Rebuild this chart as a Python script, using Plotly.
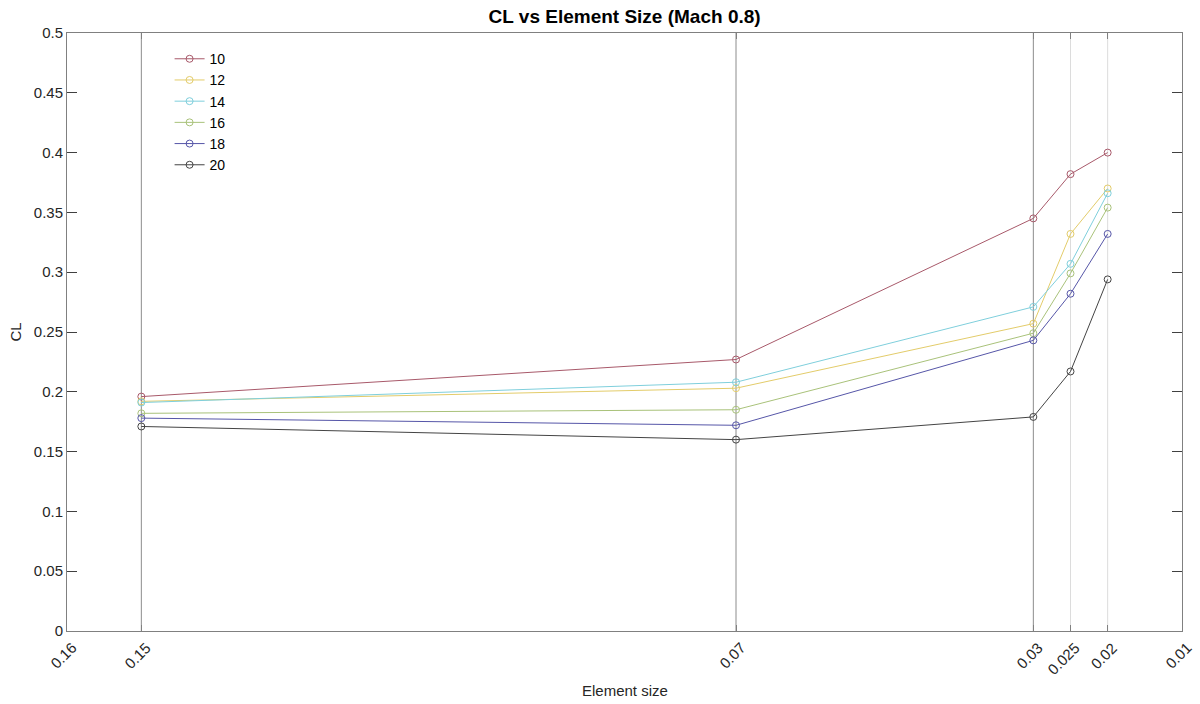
import plotly.graph_objects as go

# Element sizes (x) and lift coefficients per series
element_size = [0.15, 0.07, 0.03, 0.025, 0.02]
series_names = ["10", "12", "14", "16", "18", "20"]
cl_10 = [0.196, 0.227, 0.345, 0.382, 0.400]
cl_12 = [0.192, 0.203, 0.257, 0.332, 0.370]
cl_14 = [0.191, 0.208, 0.271, 0.307, 0.366]
cl_16 = [0.182, 0.185, 0.249, 0.299, 0.354]
cl_18 = [0.178, 0.172, 0.243, 0.282, 0.332]
cl_20 = [0.171, 0.160, 0.179, 0.217, 0.294]
x_ticks = [0.16, 0.15, 0.07, 0.03, 0.025, 0.02, 0.01]
x_tick_text = ["0.16", "0.15", "0.07", "0.03", "0.025", "0.02", "0.01"]
y_ticks = [0, 0.05, 0.1, 0.15, 0.2, 0.25, 0.3, 0.35, 0.4, 0.45, 0.5]
y_tick_text = ["0", "0.05", "0.1", "0.15", "0.2", "0.25", "0.3", "0.35", "0.4", "0.45", "0.5"]
dark_lines = [0.15, 0.07, 0.03]
light_lines = [0.025, 0.02]

series_values = [cl_10, cl_12, cl_14, cl_16, cl_18, cl_20]
colors = ["#a8596a", "#e3cc6a", "#7fcfdc", "#a9c27a", "#5656a8", "#444444"]

font_family = "Liberation Sans, Arial, sans-serif"

fig = go.Figure()
for name, vals, col in zip(series_names, series_values, colors):
    fig.add_trace(go.Scatter(
        x=element_size, y=vals, name=name, mode="lines+markers",
        line=dict(color=col, width=1),
        marker=dict(symbol="circle-open", size=7, color=col, line=dict(width=1)),
    ))

for xv in dark_lines:
    fig.add_shape(type="line", xref="x", yref="paper", x0=xv, x1=xv, y0=0, y1=1,
                  line=dict(color="#8c8c8c", width=1), layer="below")
for xv in light_lines:
    fig.add_shape(type="line", xref="x", yref="paper", x0=xv, x1=xv, y0=0, y1=1,
                  line=dict(color="#dcdcdc", width=1), layer="below")

# Rotated x tick labels, right end sitting just past each tick
for xv, txt in zip(x_ticks, x_tick_text):
    fig.add_annotation(x=xv, y=0, xref="x", yref="paper", text=txt, showarrow=False,
                       textangle=-45, xanchor="right", yanchor="top",
                       xshift=14, yshift=-7, borderpad=0,
                       font=dict(size=15, color="#262626", family=font_family))

# x-axis title
fig.add_annotation(x=0.5, y=0, xref="paper", yref="paper", text="Element size",
                   showarrow=False, xanchor="center", yanchor="middle", yshift=-59,
                   font=dict(size=15, color="#262626", family=font_family))

fig.update_layout(
    width=1200, height=704,
    margin=dict(l=67, r=18, t=33, b=73),
    paper_bgcolor="white", plot_bgcolor="white",
    font=dict(family=font_family, size=15, color="#262626"),
    title=dict(text="<b>CL vs Element Size (Mach 0.8)</b>", x=0.5205, xanchor="center",
               y=0.977, yanchor="middle", font=dict(size=19, color="#000000")),
    showlegend=True,
    legend=dict(x=0.092, y=0.983, xanchor="left", yanchor="top",
                bgcolor="rgba(0,0,0,0)", borderwidth=0,
                font=dict(size=14, color="#000000"), tracegroupgap=0,
                itemwidth=30),
    xaxis=dict(
        range=[0.16, 0.01], tickmode="array", tickvals=x_ticks, showticklabels=False,
        showgrid=False, zeroline=False,
        showline=True, linecolor="#808080", linewidth=1, mirror="ticks",
        ticks="inside", ticklen=6, tickcolor="#808080",
    ),
    yaxis=dict(
        range=[0, 0.5], tickmode="array", tickvals=y_ticks, ticktext=y_tick_text,
        showgrid=False, zeroline=False,
        showline=True, linecolor="#808080", linewidth=1, mirror="ticks",
        ticks="inside", ticklen=10, tickcolor="#404040",
        title=dict(text="CL", font=dict(size=15), standoff=8),
        tickfont=dict(size=15),
    ),
)

fig.write_html("out.html")
